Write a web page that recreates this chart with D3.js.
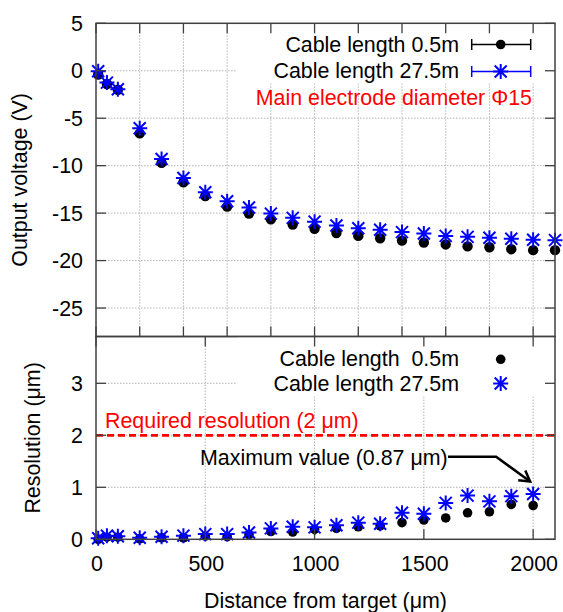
<!DOCTYPE html>
<html>
<head>
<meta charset="utf-8">
<script src="https://cdn.jsdelivr.net/npm/d3@7"></script>
<style>
  html, body { margin: 0; padding: 0; background: #fff; }
  svg { display: block; }
  text { font-family: "Liberation Sans", Arial, sans-serif; font-size: 21.4px; fill: #000; white-space: pre; }
</style>
</head>
<body>
<svg id="chart" width="563" height="612"></svg>
<script>
// Output voltage vs. distance from target (upper panel)
const voltDistance = [10, 50, 100, 200, 300, 400, 500, 600, 700, 800, 900, 1000, 1100, 1200, 1300, 1400, 1500, 1600, 1700, 1800, 1900, 2000, 2100];
const voltShort = [-0.4, -1.4, -2.0, -6.6, -9.7, -11.75, -13.2, -14.3, -15.05, -15.65, -16.2, -16.65, -17.1, -17.4, -17.65, -17.9, -18.1, -18.3, -18.5, -18.6, -18.8, -18.9, -18.9];
const voltLong = [-0.05, -1.25, -1.95, -6.05, -9.3, -11.3, -12.8, -13.75, -14.4, -15.05, -15.5, -15.9, -16.3, -16.6, -16.75, -17.0, -17.15, -17.4, -17.5, -17.6, -17.7, -17.8, -17.85];

// Resolution vs. distance from target (lower panel)
const resDistance = [10, 50, 100, 200, 300, 400, 500, 600, 700, 800, 900, 1000, 1100, 1200, 1300, 1400, 1500, 1600, 1700, 1800, 1900, 2000];
const resShort = [0.0, 0.04, 0.04, 0.01, 0.03, 0.03, 0.06, 0.05, 0.09, 0.15, 0.14, 0.19, 0.21, 0.24, 0.26, 0.32, 0.37, 0.41, 0.51, 0.53, 0.67, 0.65];
const resLong = [0.02, 0.07, 0.06, 0.03, 0.05, 0.07, 0.1, 0.1, 0.13, 0.21, 0.24, 0.23, 0.27, 0.32, 0.3, 0.51, 0.49, 0.7, 0.84, 0.73, 0.83, 0.87];

const xTicksTop = [0, 200, 400, 600, 800, 1000, 1200, 1400, 1600, 1800, 2000];
const xTicksBottom = [0, 500, 1000, 1500, 2000];
const voltTicks = [5, 0, -5, -10, -15, -20, -25];
const resTicks = [0, 1, 2, 3];

const requiredResolution = 2;
const maxResolution = 0.87;
const maxResolutionDistance = 2000;

const svg = d3.select("#chart");
const left = 96, right = 555;
const topY0 = 23.3, topY1 = 336.5, botY1 = 539.3;
const TICK = 10;
const frameColor = "#404040";
const gridColor = "#b4b4b4";
const blue = "#0000ff";

const x = d3.scaleLinear().domain([0, 2100]).range([left, right]);
const yV = d3.scaleLinear().domain([-28, 5]).range([topY1, topY0]);
const yR = d3.scaleLinear().domain([0, 3.9]).range([botY1, topY1]);

function starPath(s) {
  const d = s * 0.8;
  return `M${-s},0H${s}M0,${-s}V${s}M${-d},${-d}L${d},${d}M${-d},${d}L${d},${-d}`;
}

function panel(g, y, xTicks, yTicks, y0, y1, legendBox) {
  // dotted grid
  const grid = g.append("g").attr("stroke", gridColor).attr("stroke-width", 1).attr("stroke-dasharray", "1.5,1.5");
  xTicks.filter(v => v > 0 && v < 2100).forEach(v => {
    grid.append("line").attr("x1", x(v)).attr("x2", x(v)).attr("y1", y0).attr("y2", y1);
  });
  yTicks.filter(v => y(v) > y0 + 1 && y(v) < y1 - 1).forEach(v => {
    grid.append("line").attr("x1", left).attr("x2", right).attr("y1", y(v)).attr("y2", y(v));
  });
  // opaque key box
  g.append("rect").attr("x", legendBox[0]).attr("y", legendBox[1])
    .attr("width", legendBox[2]).attr("height", legendBox[3]).attr("fill", "#fff");
}

function frame(g, y, xTicks, yTicks, y0, y1) {
  const t = g.append("g").attr("stroke", frameColor).attr("stroke-width", 1.3);
  xTicks.forEach(v => {
    t.append("line").attr("x1", x(v)).attr("x2", x(v)).attr("y1", y0).attr("y2", y0 + TICK);
    t.append("line").attr("x1", x(v)).attr("x2", x(v)).attr("y1", y1).attr("y2", y1 - TICK);
  });
  yTicks.forEach(v => {
    t.append("line").attr("x1", left).attr("x2", left + TICK).attr("y1", y(v)).attr("y2", y(v));
    t.append("line").attr("x1", right).attr("x2", right - TICK).attr("y1", y(v)).attr("y2", y(v));
  });
  g.append("rect").attr("x", left).attr("y", y0).attr("width", right - left).attr("height", y1 - y0)
    .attr("fill", "none").attr("stroke", frameColor).attr("stroke-width", 1.5);
  const lab = g.append("g").attr("text-anchor", "end");
  yTicks.forEach(v => {
    lab.append("text").attr("x", 83).attr("y", y(v) + 7.5).text(String(v));
  });
}

// ---------- upper panel ----------
const gTop = svg.append("g");
panel(gTop, yV, xTicksTop, voltTicks, topY0, topY1, [237, topY0 + 1, right - 237 - 1, 59]);

const blackTop = gTop.append("g");
voltDistance.forEach((d, i) => {
  blackTop.append("circle").attr("cx", x(d)).attr("cy", yV(voltShort[i])).attr("r", 5.2).attr("fill", "#000");
});
const starTop = gTop.append("g").attr("stroke", blue).attr("stroke-width", 2).attr("fill", "none");
voltDistance.forEach((d, i) => {
  starTop.append("path").attr("transform", `translate(${x(d)},${yV(voltLong[i])})`).attr("d", starPath(7.5));
});
frame(gTop, yV, xTicksTop, voltTicks, topY0, topY1);

// key (upper)
const keyTop = gTop.append("g");
keyTop.append("text").attr("x", 459).attr("y", 52).attr("text-anchor", "end").text("Cable length 0.5m");
keyTop.append("text").attr("x", 459).attr("y", 77.5).attr("text-anchor", "end").text("Cable length 27.5m");
[[44.5, "#000"], [71.5, blue]].forEach(([yy, c]) => {
  keyTop.append("line").attr("x1", 471.7).attr("x2", 530.7).attr("y1", yy).attr("y2", yy).attr("stroke", c).attr("stroke-width", 1.5);
  keyTop.append("line").attr("x1", 471.7).attr("x2", 471.7).attr("y1", yy - 5.5).attr("y2", yy + 5.5).attr("stroke", c).attr("stroke-width", 1.5);
  keyTop.append("line").attr("x1", 530.7).attr("x2", 530.7).attr("y1", yy - 5.5).attr("y2", yy + 5.5).attr("stroke", c).attr("stroke-width", 1.5);
});
keyTop.append("circle").attr("cx", 500.7).attr("cy", 44.5).attr("r", 4.8).attr("fill", "#000");
keyTop.append("path").attr("transform", "translate(500.7,71.5)").attr("d", starPath(7.5))
  .attr("stroke", blue).attr("stroke-width", 2).attr("fill", "none");
gTop.append("text").attr("x", 532).attr("y", 104.5).attr("text-anchor", "end")
  .style("fill", "#ff0000").text("Main electrode diameter Φ15");

// ---------- lower panel ----------
const gBot = svg.append("g");
panel(gBot, yR, xTicksBottom, resTicks, topY1, botY1, [237, topY1 + 1, right - 237 - 1, 59]);

// required resolution
gBot.append("line").attr("x1", left).attr("x2", right)
  .attr("y1", yR(requiredResolution)).attr("y2", yR(requiredResolution))
  .attr("stroke", "#ff0000").attr("stroke-width", 2.8).attr("stroke-dasharray", "7,4");
gBot.append("text").attr("x", 105).attr("y", 427.8).style("fill", "#ff0000")
  .text("Required resolution (2 μm)");

const blackBot = gBot.append("g");
resDistance.forEach((d, i) => {
  blackBot.append("circle").attr("cx", x(d)).attr("cy", yR(resShort[i])).attr("r", 4.8).attr("fill", "#000");
});
const starBot = gBot.append("g").attr("stroke", blue).attr("stroke-width", 2).attr("fill", "none");
resDistance.forEach((d, i) => {
  starBot.append("path").attr("transform", `translate(${x(d)},${yR(resLong[i])})`).attr("d", starPath(7.5));
});
frame(gBot, yR, xTicksBottom, resTicks, topY1, botY1);

// key (lower)
gBot.append("text").attr("x", 459).attr("y", 365.5).attr("text-anchor", "end").text("Cable length  0.5m");
gBot.append("text").attr("x", 459).attr("y", 391.3).attr("text-anchor", "end").text("Cable length 27.5m");
gBot.append("circle").attr("cx", 500.7).attr("cy", 359.3).attr("r", 4.8).attr("fill", "#000");
gBot.append("path").attr("transform", "translate(500.7,383.5)").attr("d", starPath(7.5))
  .attr("stroke", blue).attr("stroke-width", 2).attr("fill", "none");

// maximum value annotation with arrow
gBot.append("text").attr("x", 200).attr("y", 464.5).text(`Maximum value (${maxResolution} μm)`);
const tipX = x(maxResolutionDistance) - 3, tipY = yR(maxResolution) - 12.5;
const elbowX = tipX - 34, elbowY = 456.7;
gBot.append("path")
  .attr("d", `M448,${elbowY}H${elbowX}L${tipX},${tipY}`)
  .attr("fill", "none").attr("stroke", "#000").attr("stroke-width", 2.5);
{
  const ang = Math.atan2(tipY - elbowY, tipX - elbowX);
  const L = 12, spread = Math.PI / 6;
  const p1 = [tipX - L * Math.cos(ang - spread), tipY - L * Math.sin(ang - spread)];
  const p2 = [tipX - L * Math.cos(ang + spread), tipY - L * Math.sin(ang + spread)];
  gBot.append("path").attr("d", `M${p1[0]},${p1[1]}L${tipX},${tipY}L${p2[0]},${p2[1]}`)
    .attr("fill", "none").attr("stroke", "#000").attr("stroke-width", 2.5);
}

// x tick labels
const xl = svg.append("g").attr("text-anchor", "middle");
xTicksBottom.forEach(v => {
  xl.append("text").attr("x", x(v) + 1).attr("y", 571).text(String(v));
});

// axis titles
svg.append("text").attr("x", (left + right) / 2).attr("y", 607.5).attr("text-anchor", "middle")
  .text("Distance from target (μm)");
svg.append("text").attr("transform", `translate(27,${(topY0 + topY1) / 2}) rotate(-90)`)
  .attr("text-anchor", "middle").text("Output voltage (V)");
svg.append("text").attr("transform", `translate(40,${(topY1 + botY1) / 2}) rotate(-90)`)
  .attr("text-anchor", "middle").text("Resolution (μm)");
</script>
</body>
</html>
